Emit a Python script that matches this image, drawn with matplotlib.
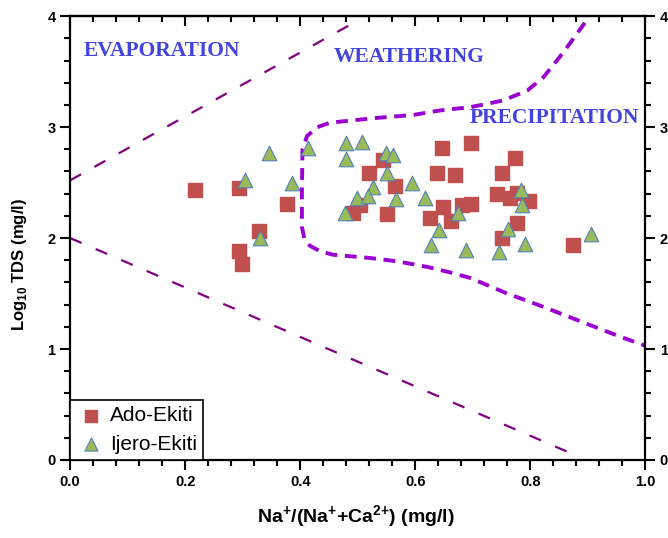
"""
Gibbs diagram - Na/(Na+Ca) vs Log TDS
"""

import numpy as np
import matplotlib
matplotlib.use('Agg')  # Non-interactive backend
import matplotlib.pyplot as plt
from matplotlib.ticker import MultipleLocator

plt.rcParams['font.family'] = ['Liberation Sans', 'DejaVu Sans']
plt.rcParams['mathtext.fontset'] = 'custom'
plt.rcParams['mathtext.rm'] = 'Liberation Sans:bold'
plt.rcParams['mathtext.bf'] = 'Liberation Sans:bold'
plt.rcParams['lines.scale_dashes'] = False

# Ado-Ekiti samples
ado_x = [0.217, 0.294, 0.377, 0.329, 0.294, 0.299,
         0.544, 0.520, 0.565, 0.504, 0.492, 0.551,
         0.647, 0.638, 0.670, 0.649, 0.626, 0.663,
         0.682, 0.697, 0.697, 0.774, 0.751, 0.742,
         0.765, 0.777, 0.797, 0.777, 0.751, 0.875]
ado_y = [2.43, 2.45, 2.31, 2.06, 1.88, 1.77,
         2.70, 2.59, 2.47, 2.30, 2.23, 2.22,
         2.81, 2.59, 2.57, 2.28, 2.18, 2.15,
         2.30, 2.31, 2.86, 2.72, 2.59, 2.40,
         2.36, 2.41, 2.33, 2.14, 2.00, 1.94]

# Ijero-Ekiti samples
ijero_x = [0.304, 0.346, 0.386, 0.414, 0.330,
           0.480, 0.508, 0.480, 0.550, 0.562, 0.551, 0.527, 0.499,
           0.518, 0.478, 0.567, 0.595, 0.617, 0.675, 0.642, 0.628, 0.689,
           0.784, 0.786, 0.762, 0.790, 0.746, 0.906]
ijero_y = [2.52, 2.77, 2.50, 2.81, 2.00,
           2.86, 2.87, 2.71, 2.77, 2.75, 2.59, 2.46, 2.36,
           2.38, 2.23, 2.35, 2.50, 2.36, 2.23, 2.07, 1.94, 1.89,
           2.43, 2.30, 2.08, 1.95, 1.87, 2.04]

# boundary lines of the diagram
evap_x = [0.0, 0.50]
evap_y = [2.52, 3.96]
rock_x = [0.0, 0.88]
rock_y = [2.0, 0.04]
boom_x = [0.895, 0.857, 0.823, 0.795, 0.753, 0.696, 0.643, 0.597, 0.527, 0.452,
          0.430, 0.412, 0.404, 0.403, 0.403, 0.407, 0.417, 0.435, 0.457,
          0.522, 0.569, 0.621, 0.661, 0.696, 0.760, 0.823, 0.892, 0.957, 1.0]
boom_y = [3.94, 3.67, 3.45, 3.33, 3.24, 3.18, 3.15, 3.11, 3.08, 3.04,
          3.00, 2.92, 2.80, 2.45, 2.10, 2.00, 1.93, 1.88, 1.85,
          1.82, 1.79, 1.74, 1.69, 1.64, 1.50, 1.38, 1.24, 1.11, 1.03]

fig = plt.figure(figsize=(6.68, 5.38), dpi=100)
ax = fig.add_axes([0.105, 0.145, 0.861, 0.825])

ax.plot(evap_x, evap_y, color='#800080', lw=1.6, dashes=(9, 11))
ax.plot(rock_x, rock_y, color='#800080', lw=1.6, dashes=(9, 11))
ax.plot(boom_x, boom_y, color='#9A00D0', lw=2.8, dashes=(8.5, 5.5),
        solid_capstyle='round')

ax.scatter(ado_x, ado_y, marker='s', s=100, color='#C0504D', zorder=3,
           label='Ado-Ekiti')
ax.scatter(ijero_x, ijero_y, marker='^', s=110, color='#9BBB59',
           edgecolors='#4F81BD', linewidths=0.8, zorder=4, label='Ijero-Ekiti')

# region labels
txt = dict(family='Liberation Serif', fontweight='bold', fontsize=15.5,
           color='#4343DE')
ax.text(0.023, 3.69, 'EVAPORATION', ha='left', va='center', **txt)
ax.text(0.59, 3.63, 'WEATHERING', ha='center', va='center', **txt)
ax.text(0.695, 3.08, 'PRECIPITATION', ha='left', va='center', **txt)

ax.set_xlim(0, 1)
ax.set_ylim(0, 4)
ax.xaxis.set_major_locator(MultipleLocator(0.2))
ax.xaxis.set_minor_locator(MultipleLocator(0.04))
ax.yaxis.set_major_locator(MultipleLocator(1))
ax.yaxis.set_minor_locator(MultipleLocator(0.2))
ax.set_xticklabels([f'{v:.1f}' for v in ax.get_xticks()])

ax.tick_params(which='both', direction='out', width=1.5, labelsize=10.5,
               right=True, labelright=True)
ax.tick_params(which='major', length=7)
ax.tick_params(which='minor', length=4)
for lab in ax.get_xticklabels() + ax.get_yticklabels():
    lab.set_fontweight('bold')
for t in ax.yaxis.get_major_ticks():
    t.label2.set_fontweight('bold')

top = ax.secondary_xaxis('top')
top.xaxis.set_major_locator(MultipleLocator(0.2))
top.xaxis.set_minor_locator(MultipleLocator(0.04))
top.tick_params(which='both', direction='in', width=1.5, labeltop=False)
top.tick_params(which='major', length=7)
top.tick_params(which='minor', length=4)

for sp in list(ax.spines.values()) + list(top.spines.values()):
    sp.set_linewidth(1.6)

ax.set_xlabel(r'Na$^{+}$/(Na$^{+}$+Ca$^{2{+}}$) (mg/l)', fontsize=14,
              fontweight='bold')
ax.xaxis.set_label_coords(0.496, -0.098)
ax.set_ylabel(r'Log$_{10}$ TDS (mg/l)', fontsize=12, fontweight='bold')
ax.yaxis.set_label_coords(-0.072, 0.44)

leg = ax.legend(loc='lower left', fontsize=15, frameon=True, fancybox=False,
                edgecolor='black', framealpha=1, borderaxespad=0,
                handletextpad=0.2, borderpad=0.3, labelspacing=0.45,
                handlelength=1.4, markerscale=0.9)
leg.get_frame().set_linewidth(1.2)

plt.savefig('out.png', dpi=100)
plt.close()
